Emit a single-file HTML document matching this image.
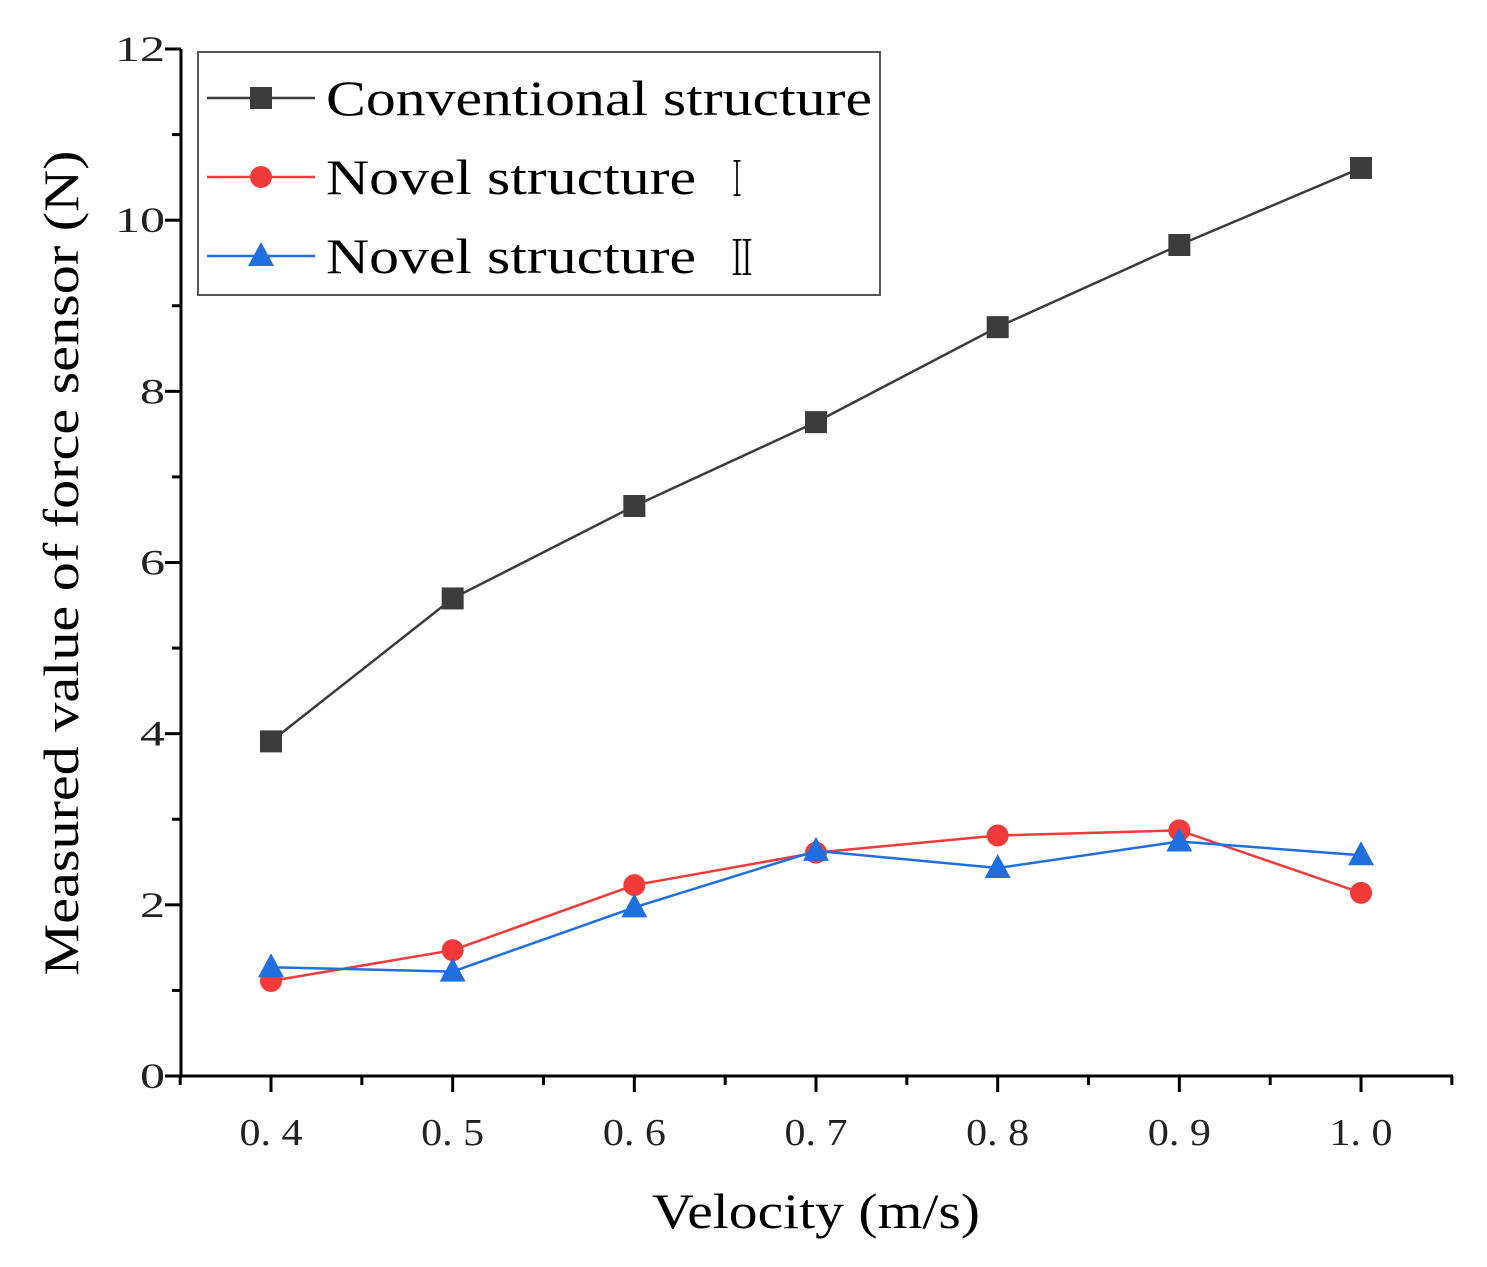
<!DOCTYPE html>
<html><head><meta charset="utf-8"><style>
body{margin:0;background:#fff}
svg{display:block;font-family:"Liberation Serif",serif}
</style></head><body>
<svg id="chart" width="1487" height="1267" xmlns="http://www.w3.org/2000/svg"></svg>
<script>
const categories=[0.4,0.5,0.6,0.7,0.8,0.9,1.0];
const conventional=[3.91,5.58,6.66,7.64,8.75,9.71,10.61];
const novel1=[1.11,1.47,2.23,2.61,2.81,2.87,2.14];
const novel2=[1.27,1.22,1.97,2.63,2.43,2.74,2.58];
const yTicks=[0,2,4,6,8,10,12];
const xTickLabels=["0. 4","0. 5","0. 6","0. 7","0. 8","0. 9","1. 0"];
const NS="http://www.w3.org/2000/svg";
const svg=document.getElementById('chart');
const X0=181,X1=1453,Y0=1076,Y1=49;
const xs=v=>271+(v-0.4)*1816.7;
const ys=v=>Y0-(v/12)*(Y0-Y1);
function mk(t,a,p){const e=document.createElementNS(NS,t);for(const k in a)e.setAttribute(k,a[k]);(p||svg).appendChild(e);return e;}
const axes=mk('g',{});


mk('line',{x1:X0,y1:Y1,x2:X0,y2:Y0,stroke:'#000','stroke-width':3},axes);
mk('line',{x1:X0,y1:Y0,x2:X1,y2:Y0,stroke:'#000','stroke-width':3},axes);
for(let v=0;v<=12;v+=1){const y=ys(v);const major=v%2===0;
 mk('line',{x1:X0-(major?16:9),y1:y,x2:X0,y2:y,stroke:'#000','stroke-width':3},axes);
}
yTicks.forEach(v=>{const s=String(v);const t=mk('text',{x:X0-16,y:ys(v)+12,'text-anchor':'end','font-size':36,textLength:s.length*25,lengthAdjust:'spacingAndGlyphs',fill:'#222'},axes);t.textContent=s;
 
 });
for(let v=0.35;v<=1.051;v+=0.05){const x=xs(v);const major=Math.abs(Math.round(v*10)-v*10)<0.01;
 mk('line',{x1:x,y1:Y0,x2:x,y2:Y0+(major?16:9),stroke:'#000','stroke-width':3},axes);}
categories.forEach((c,i)=>{const t=mk('text',{x:xs(c),y:1145,'text-anchor':'middle','font-size':38,textLength:63,lengthAdjust:'spacingAndGlyphs',fill:'#222'},axes);t.textContent=xTickLabels[i];
 
 });
const xt=mk('text',{x:816,y:1228,'text-anchor':'middle','font-size':50,textLength:328,lengthAdjust:'spacingAndGlyphs'});xt.textContent='Velocity (m/s)';


const yt=mk('text',{x:0,y:0,'text-anchor':'middle','font-size':50,textLength:825,lengthAdjust:'spacingAndGlyphs',transform:'translate(78,563) rotate(-90)'});yt.textContent='Measured value of force sensor (N)';


function marker(g,type,x,y,color){
 if(type==='sq')return mk('rect',{x:x-11,y:y-11,width:22,height:22,fill:color},g);
 if(type==='ci')return mk('circle',{cx:x,cy:y,r:11,fill:color},g);
 return mk('polygon',{points:`${x},${y-14} ${x-13},${y+10} ${x+13},${y+10}`,fill:color},g);
}
function series(vals,color,type,name){
 const g=mk('g',{});
 
 
 mk('polyline',{points:vals.map((v,i)=>xs(categories[i])+','+ys(v)).join(' '),fill:'none',stroke:color,'stroke-width':2.5},g);
 vals.forEach((v,i)=>{const m=marker(g,type,xs(categories[i]),ys(v),color);
  
  });
}
series(conventional,'#3c3c3c','sq','conventional-series');
series(novel1,'#f23a3a','ci','novel-1-series');
series(novel2,'#1f6fe0','tr','novel-2-series');
const lg=mk('g',{});


mk('rect',{x:198,y:52,width:682,height:243,fill:'#fff',stroke:'#555','stroke-width':2},lg);
const entries=[['Conventional structure','','#3c3c3c','sq',98,546],['Novel structure','Ⅰ','#f23a3a','ci',177,370],['Novel structure','Ⅱ','#1f6fe0','tr',256,370]];
entries.forEach(([label,num,c,t,y,w])=>{
 const e=mk('g',{},lg);
 
 
 mk('line',{x1:207,y1:y,x2:315,y2:y,stroke:c,'stroke-width':2.5},e);
 marker(e,t,261,y,c);
 const tx=mk('text',{x:326,y:y+17,'font-size':50,fill:'#000',textLength:w,lengthAdjust:'spacingAndGlyphs'},e);tx.textContent=label;
 if(num){const n=mk('text',{x:727,y:y+19,'font-size':48,fill:'#000',textLength:num==='Ⅰ'?20:30,lengthAdjust:'spacingAndGlyphs','font-family':'"Liberation Serif","Noto Serif CJK SC",serif'},e);n.textContent=num;}
});
</script>
</body></html>
